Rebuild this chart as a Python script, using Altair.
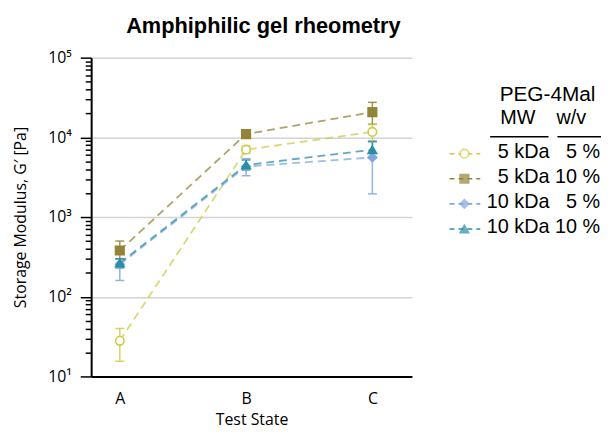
import altair as alt
import pandas as pd

states = ["A", "B", "C"]
series = ["5 kDa 5 %", "5 kDa 10 %", "10 kDa 5 %", "10 kDa 10 %"]
mw = ["5 kDa", "5 kDa", "10 kDa", "10 kDa"]
wv = ["5 %", "10 %", "5 %", "10 %"]

g_mean = {
    "5 kDa 5 %": [28, 7000, 11700],
    "5 kDa 10 %": [380, 11000, 20700],
    "10 kDa 5 %": [255, 4300, 5600],
    "10 kDa 10 %": [265, 4500, 7000],
}
g_low = {
    "5 kDa 5 %": [15.5, 6300, 9000],
    "5 kDa 10 %": [300, 10500, 14600],
    "10 kDa 5 %": [160, 3300, 1950],
    "10 kDa 10 %": [230, 3900, 5500],
}
g_high = {
    "5 kDa 5 %": [40, 7800, 14500],
    "5 kDa 10 %": [500, 11500, 27500],
    "10 kDa 5 %": [300, 5400, 9000],
    "10 kDa 10 %": [300, 5200, 8800],
}

colors = ["#cccc48", "#938438", "#7fa8dc", "#2b8ea7"]
fills = ["#ffffff", "#938438", "#7fa8dc", "#2b8ea7"]
shapes = ["circle", "square", "diamond", "triangle-up"]
sizes = [75, 75, 45, 65]

rows = []
for s in series:
    for i, st in enumerate(states):
        rows.append({"series": s, "state": st, "g": g_mean[s][i],
                     "lo": g_low[s][i], "hi": g_high[s][i]})
df = pd.DataFrame(rows)

color_scale = alt.Scale(domain=series, range=colors)
fill_scale = alt.Scale(domain=series, range=fills)
shape_scale = alt.Scale(domain=series, range=shapes)
size_scale = alt.Scale(domain=series, range=sizes)

tick_vals = [m * 10 ** e for e in range(1, 5) for m in range(1, 10)] + [100000]
is_dec = "abs(log(datum.value)/LN10 - round(log(datum.value)/LN10)) < 0.01"

x_enc = alt.X("state:N", scale=alt.Scale(type="point", domain=states, padding=0.27, align=0.42),
              axis=alt.Axis(title="Test State", labelAngle=0, ticks=False, domainColor="black",
                            domainWidth=2, labelFontSize=16, labelPadding=14, titleFontSize=16,
                            titlePadding=6, grid=False, labelFont="Open Sans", titleFont="Open Sans",
                            labelColor="black", titleColor="black", titleFontWeight="normal"))
y_enc = alt.Y("g:Q", scale=alt.Scale(type="log", domain=[10, 100000]),
              axis=alt.Axis(title="Storage Modulus, G\u2032 [Pa]", values=tick_vals,
                            labelExpr=is_dec + " ? '10' + ['\u2070','\u00b9','\u00b2','\u00b3','\u2074','\u2075'][round(log(datum.value)/LN10)] : ''",
                            labelOverlap=False, grid=True,
                            gridColor="#d4d4d4", gridWidth=1.5,
                            gridOpacity={"condition": {"test": is_dec, "value": 1}, "value": 0},
                            tickSize={"condition": {"test": is_dec, "value": 11}, "value": 6},
                            tickColor="black", tickWidth=1.5, domainColor="black", domainWidth=2,
                            labelFontSize=16, labelPadding=9, titleFontSize=16, titlePadding=19,
                            labelFont="Open Sans", titleFont="Open Sans", labelColor="black",
                            titleColor="black", titleFontWeight="normal"))

base = alt.Chart(df).encode(x=x_enc)

lines = base.mark_line(strokeDash=[8, 5], strokeWidth=1.8, opacity=0.75).encode(
    y=y_enc,
    color=alt.Color("series:N", scale=color_scale, legend=None),
    detail="series:N",
)
errs = base.mark_errorbar(ticks={"size": 9}, thickness=1.5, opacity=0.85).encode(
    y=alt.Y("lo:Q", title="Storage Modulus, G\u2032 [Pa]"),
    y2="hi:Q",
    color=alt.Color("series:N", scale=color_scale, legend=None),
)
pts = base.mark_point(filled=False, strokeWidth=1.6, opacity=1).encode(
    y=alt.Y("g:Q"),
    shape=alt.Shape("series:N", scale=shape_scale, legend=None),
    stroke=alt.Stroke("series:N", scale=color_scale, legend=None),
    fill=alt.Fill("series:N", scale=fill_scale, legend=None),
    size=alt.Size("series:N", scale=size_scale, legend=None),
)

main = alt.layer(lines, errs, pts).properties(
    width=324, height=322,
    title=alt.TitleParams("Amphiphilic gel rheometry", font="Liberation Sans", fontSize=22,
                          fontWeight="bold", color="black", offset=12, dx=12, anchor="middle"),
)

# custom legend
leg_df = pd.DataFrame({"series": series, "mw": mw, "wv": wv, "row": [0, 1, 2, 3]})
ly = alt.Y("row:O", scale=alt.Scale(type="point", range=[97, 173], padding=0), axis=None)
lbase = alt.Chart(leg_df).encode(y=ly)
l_line = lbase.mark_rule(strokeDash=[5, 4], strokeWidth=1.6).encode(
    x=alt.value(20), x2=alt.value(51),
    color=alt.Color("series:N", scale=color_scale, legend=None))
l_pts = lbase.mark_point(filled=False, strokeWidth=1.6).encode(
    x=alt.value(35),
    shape=alt.Shape("series:N", scale=shape_scale, legend=None),
    stroke=alt.Stroke("series:N", scale=color_scale, legend=None),
    fill=alt.Fill("series:N", scale=fill_scale, legend=None),
    size=alt.Size("series:N", scale=size_scale, legend=None))
l_mw = lbase.mark_text(align="right", baseline="middle", fontSize=20, font="Liberation Sans",
                       color="black", dy=-2).encode(x=alt.value(121), text="mw:N")
l_wv = lbase.mark_text(align="right", baseline="middle", fontSize=20, font="Liberation Sans",
                       color="black", dy=-2).encode(x=alt.value(172), text="wv:N")

hdr_df = pd.DataFrame({"t": ["PEG-4Mal"]})
h1 = alt.Chart(hdr_df).mark_text(align="center", baseline="middle", fontSize=21,
                                 font="Liberation Sans", color="black").encode(
    x=alt.value(119), y=alt.value(38), text="t:N")
h_mw = alt.Chart(pd.DataFrame({"t": ["MW"]})).mark_text(align="center", baseline="middle", fontSize=20,
                                 font="Liberation Sans", color="black").encode(
    x=alt.value(89), y=alt.value(61), text="t:N")
h_wv = alt.Chart(pd.DataFrame({"t": ["w/v"]})).mark_text(align="center", baseline="middle", fontSize=20,
                                 font="Liberation Sans", color="black").encode(
    x=alt.value(143), y=alt.value(61), text="t:N")
u1 = alt.Chart(hdr_df).mark_rule(color="black", strokeWidth=1.5).encode(
    x=alt.value(61), x2=alt.value(120), y=alt.value(80))
u2 = alt.Chart(hdr_df).mark_rule(color="black", strokeWidth=1.5).encode(
    x=alt.value(129), x2=alt.value(173), y=alt.value(80))

legend = alt.layer(l_line, l_pts, l_mw, l_wv, h1, h_mw, h_wv, u1, u2).properties(width=160, height=322)

chart = alt.hconcat(main, legend, spacing=18).resolve_scale(
    color="independent", shape="independent", fill="independent", stroke="independent",
    size="independent", y="independent"
).configure_view(stroke=None).properties(padding={"left": 5, "top": 5, "right": 0, "bottom": 5})

chart.save("out.html", embed_options={"renderer": "svg", "actions": False})
